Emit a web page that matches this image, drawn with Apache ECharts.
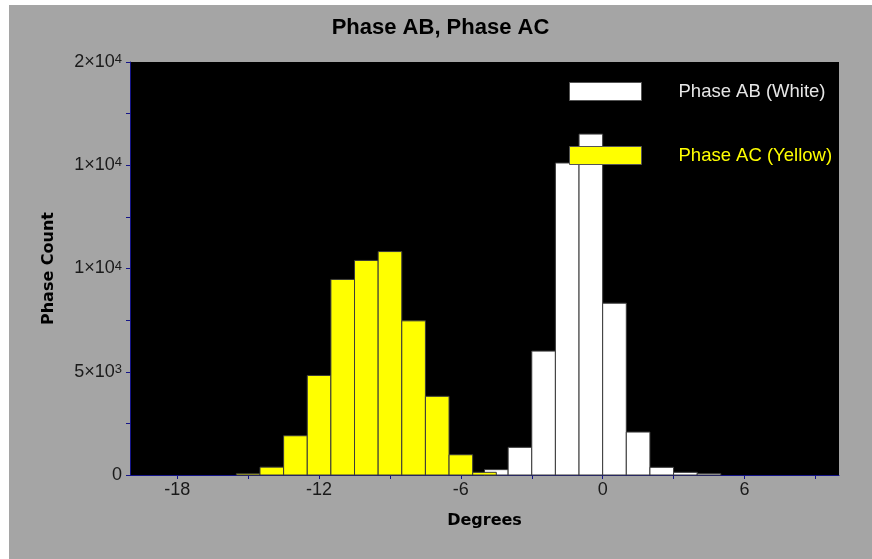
<!DOCTYPE html>
<html>
<head>
<meta charset="utf-8">
<script src="https://cdn.jsdelivr.net/npm/echarts@6/dist/echarts.min.js"></script>
<style>
  html, body { margin: 0; padding: 0; background: #ffffff; }
  #chart { position: absolute; left: 9px; top: 5px; width: 863px; height: 554px; }
</style>
</head>
<body>
<div id="chart"></div>
<script>
// Histogram data (bin centres in degrees, counts per bin)
const degreesAB = [-4.5, -3.5, -2.5, -1.5, -0.5, 0.5, 1.5, 2.5, 3.5, 4.5];
const countsAB = [260, 1340, 6000, 15110, 16510, 8320, 2080, 372, 130, 63];
const degreesAC = [-15, -14, -13, -12, -11, -10, -9, -8, -7, -6, -5];
const countsAC = [60, 380, 1900, 4820, 9470, 10390, 10820, 7465, 3810, 980, 130];

// Axis labels
const xLabelValues = [-18, -12, -6, 0, 6];
const xTickValues = [-18, -15, -12, -9, -6, -3, 0, 3, 6, 9];
const yTickLabels = ['0', '5\u00d710{sup|3}', '1\u00d710{sup|4}', '1\u00d710{sup|4}', '2\u00d710{sup|4}'];

const axisBlue = '#141488';
const labelFont = 'Liberation Sans, Arial, sans-serif';

const chart = echarts.init(document.getElementById('chart'));

// one bin = one rectangle, one degree wide
function renderBar(params, api) {
  const x = api.value(0);
  const y = api.value(1);
  const p0 = api.coord([x - 0.5, y]);
  const p1 = api.coord([x + 0.5, 0]);
  return {
    type: 'rect',
    shape: { x: p0[0], y: p0[1], width: p1[0] - p0[0], height: p1[1] - p0[1] },
    style: { fill: api.visual('color'), stroke: '#3a3a3a', lineWidth: 1 }
  };
}

const option = {
  animation: false,
  backgroundColor: '#a5a5a5',
  title: {
    text: 'Phase AB, Phase AC',
    left: 'center',
    top: 7,
    textStyle: { fontFamily: labelFont, fontWeight: 'bold', fontSize: 22, color: '#000' }
  },
  legend: {
    orient: 'vertical',
    left: 560,
    top: 77,
    padding: 0,
    itemWidth: 72,
    itemHeight: 18,
    itemGap: 45,
    icon: 'rect',
    itemStyle: { borderColor: '#555', borderWidth: 1 },
    textStyle: { fontFamily: labelFont, fontSize: 18.5, lineHeight: 18, padding: [0, 0, 0, 32] },
    data: [
      { name: 'Phase AB (White)', textStyle: { color: '#e6e6e6' } },
      { name: 'Phase AC (Yellow)', textStyle: { color: '#ffff00' } }
    ]
  },
  grid: {
    left: 121,
    right: 33,
    top: 57,
    bottom: 84,
    show: true,
    backgroundColor: '#000000',
    borderWidth: 0
  },
  xAxis: {
    type: 'value',
    min: -20,
    max: 10,
    name: 'Degrees',
    nameLocation: 'middle',
    nameGap: 38,
    nameTextStyle: { fontFamily: 'DejaVu Sans', fontWeight: 'bold', fontSize: 16, color: '#000' },
    axisLine: { show: true, onZero: false, lineStyle: { color: axisBlue, width: 1 } },
    axisTick: { show: true, length: 4, customValues: xTickValues, lineStyle: { color: axisBlue } },
    axisLabel: {
      customValues: xLabelValues,
      margin: 6,
      fontFamily: labelFont,
      fontSize: 18,
      color: '#1a1a1a'
    },
    splitLine: { show: false }
  },
  yAxis: {
    type: 'value',
    min: 0,
    max: 20000,
    interval: 2500,
    name: 'Phase Count',
    nameLocation: 'middle',
    nameRotate: 90,
    nameGap: 73,
    nameTextStyle: { fontFamily: 'DejaVu Sans', fontWeight: 'bold', fontSize: 16, color: '#000' },
    axisLine: { show: true, onZero: false, lineStyle: { color: axisBlue, width: 1 } },
    axisTick: { show: true, length: 4, lineStyle: { color: axisBlue } },
    axisLabel: {
      margin: 8,
      fontFamily: labelFont,
      fontSize: 18,
      color: '#1a1a1a',
      formatter: function (v) {
        return v % 5000 === 0 ? yTickLabels[v / 5000] : '';
      },
      rich: {
        sup: { fontFamily: labelFont, fontSize: 13, color: '#1a1a1a', verticalAlign: 'top', lineHeight: 13 }
      }
    },
    splitLine: { show: false }
  },
  series: [
    {
      name: 'Phase AB (White)',
      type: 'custom',
      renderItem: renderBar,
      itemStyle: { color: '#ffffff' },
      encode: { x: 0, y: 1 },
      data: degreesAB.map((d, i) => [d, countsAB[i]])
    },
    {
      name: 'Phase AC (Yellow)',
      type: 'custom',
      renderItem: renderBar,
      itemStyle: { color: '#ffff00' },
      encode: { x: 0, y: 1 },
      data: degreesAC.map((d, i) => [d, countsAC[i]])
    }
  ]
};

chart.setOption(option);
</script>
</body>
</html>
